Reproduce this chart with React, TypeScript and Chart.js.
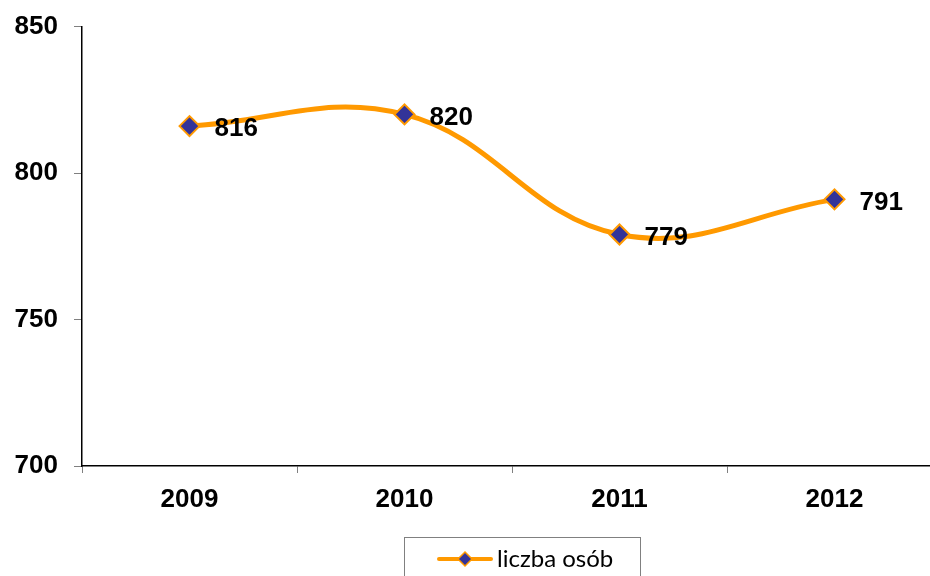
import React, { useEffect, useRef } from "react";
import { Chart, registerables } from "chart.js";

Chart.register(...registerables);

const categories = ["2009", "2010", "2011", "2012"];
const seriesLabel = "liczba osób";
const values = [816, 820, 779, 791];
const yTicks = [700, 750, 800, 850];

const ORANGE = "#FF9900";
const NAVY = "#333399";
const AXIS_FONT = "'Liberation Sans', Arial, sans-serif";

const labelsPlugin = {
  id: "valueLabels",
  afterDatasetsDraw(chart: any) {
    const ctx = chart.ctx;
    const meta = chart.getDatasetMeta(0);
    ctx.save();
    ctx.font = `bold 26px ${AXIS_FONT}`;
    ctx.fillStyle = "#000";
    ctx.textAlign = "left";
    ctx.textBaseline = "middle";
    meta.data.forEach((pt: any, i: number) => {
      const v = chart.data.datasets[0].data[i];
      ctx.fillText(String(v), pt.x + 25, pt.y + 3);
    });
    ctx.restore();
  },
};

const legendPlugin = {
  id: "boxLegend",
  afterDraw(chart: any) {
    const ctx = chart.ctx;
    const ds = chart.data.datasets[0];
    ctx.save();
    ctx.strokeStyle = "#808080";
    ctx.lineWidth = 1;
    ctx.strokeRect(404.5, 537.5, 236, 60);
    ctx.strokeStyle = ds.borderColor;
    ctx.lineWidth = 4;
    ctx.lineCap = "round";
    ctx.beginPath();
    ctx.moveTo(439, 559);
    ctx.lineTo(491, 559);
    ctx.stroke();
    ctx.beginPath();
    const cx = 465, cy = 559, r = 7;
    ctx.moveTo(cx, cy - r);
    ctx.lineTo(cx + r, cy);
    ctx.lineTo(cx, cy + r);
    ctx.lineTo(cx - r, cy);
    ctx.closePath();
    ctx.fillStyle = ds.pointBackgroundColor;
    ctx.fill();
    ctx.lineWidth = 1.5;
    ctx.strokeStyle = ds.pointBorderColor;
    ctx.stroke();
    ctx.fillStyle = "#000";
    ctx.font = "24px Lato, 'Open Sans', sans-serif";
    ctx.textAlign = "left";
    ctx.textBaseline = "middle";
    ctx.fillText(ds.label, 497, 559);
    ctx.restore();
  },
};

export default function App() {
  const ref = useRef<HTMLCanvasElement | null>(null);

  useEffect(() => {
    if (!ref.current) return;
    const chart = new Chart(ref.current, {
      type: "line",
      data: {
        labels: categories,
        datasets: [
          {
            label: seriesLabel,
            data: values,
            borderColor: ORANGE,
            borderWidth: 5,
            tension: 0.4,
            pointStyle: "rectRot",
            pointRadius: 10,
            pointBorderWidth: 2,
            pointBackgroundColor: NAVY,
            pointBorderColor: ORANGE,
            fill: false,
          },
        ],
      },
      options: {
        animation: false,
        responsive: false,
        devicePixelRatio: 1,
        layout: { padding: { top: 26.5, right: 0, left: 0, bottom: 0 } },
        plugins: {
          legend: { display: false },
          tooltip: { enabled: false },
        },
        scales: {
          x: {
            type: "category",
            offset: true,
            grid: {
              offset: true,
              drawOnChartArea: false,
              drawTicks: true,
              tickLength: 7,
              tickColor: "#808080",
            },
            border: { display: true, color: "#000", width: 1.5 },
            ticks: {
              color: "#000",
              font: { family: AXIS_FONT, size: 26, weight: "bold" },
              padding: 11,
              maxRotation: 0,
            },
            afterFit: (scale: any) => {
              scale.height = 110;
            },
          },
          y: {
            min: 700,
            max: 850,
            afterBuildTicks: (scale: any) => {
              scale.ticks = yTicks.map((v) => ({ value: v }));
            },
            grid: {
              drawOnChartArea: false,
              drawTicks: true,
              tickLength: 8,
              tickColor: "#808080",
            },
            border: { display: true, color: "#000", width: 1.5 },
            ticks: {
              color: "#000",
              font: { family: AXIS_FONT, size: 26, weight: "bold" },
              padding: 16,
            },
            afterFit: (scale: any) => {
              scale.width = 82;
              scale.paddingTop = 0;
              scale.paddingBottom = 0;
            },
          },
        },
      },
      plugins: [labelsPlugin, legendPlugin],
    });
    return () => chart.destroy();
  }, []);

  return (
    <div
      style={{
        position: "fixed",
        left: 0,
        top: 0,
        width: 930,
        height: 576,
        overflow: "hidden",
        background: "#fff",
      }}
    >
      <canvas
        ref={ref}
        width={954}
        height={576}
        style={{ display: "block", width: 954, height: 576 }}
      />
    </div>
  );
}
